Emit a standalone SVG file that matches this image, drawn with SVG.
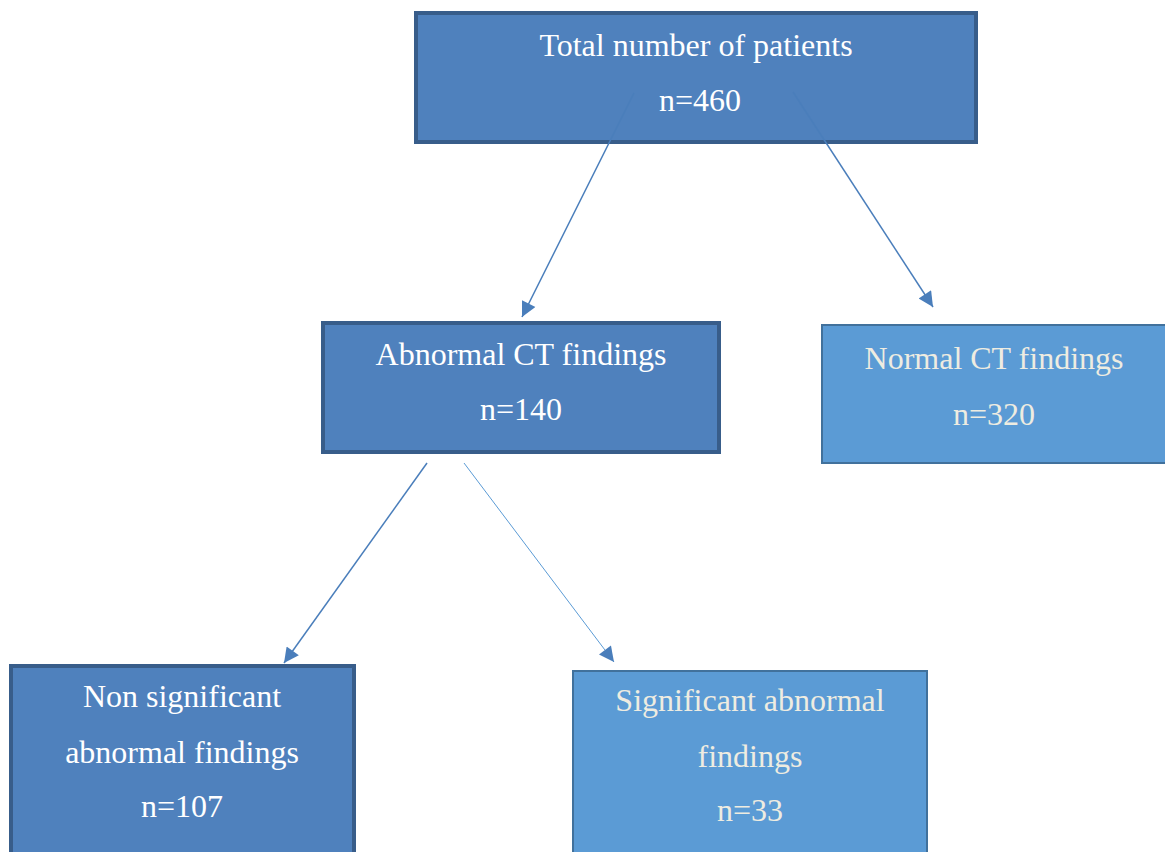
<svg xmlns="http://www.w3.org/2000/svg" width="1165" height="852" viewBox="0 0 1165 852">
<style>
.dark{fill:#4f81bd;stroke:#385d8a;stroke-width:4}
.light{fill:#5b9bd5;stroke:#41719c;stroke-width:2}
.t{font-family:"Liberation Serif",serif;font-size:32px;text-anchor:middle}
.tw{fill:#ffffff}
.tl{fill:#eeece1}
.c{stroke:#4a7ebb;stroke-width:1.5;fill:none;marker-end:url(#ah)}
</style>
<defs>
<marker id="ah" viewBox="0 0 10 10" refX="10" refY="5" markerWidth="16" markerHeight="15" markerUnits="userSpaceOnUse" orient="auto">
<path d="M0,0 L10,5 L0,10 z" fill="#4a7ebb"/>
</marker>
</defs>
<rect width="1165" height="852" fill="#ffffff"/>
<g id="n-total">
<rect class="dark" x="416" y="13" width="560" height="129"/>
<text class="t tw" x="696" y="56">Total number of patients</text>
<text class="t tw" x="700" y="111">n=460</text>
</g>
<g id="n-abnormal">
<rect class="dark" x="323" y="323" width="396" height="129"/>
<text class="t tw" x="521" y="365">Abnormal CT findings</text>
<text class="t tw" x="521" y="420">n=140</text>
</g>
<g id="n-normal">
<rect class="light" x="822" y="325" width="350" height="138"/>
<text class="t tl" x="994" y="369">Normal CT findings</text>
<text class="t tl" x="994" y="425">n=320</text>
</g>
<g id="n-nonsig">
<rect class="dark" x="11" y="666" width="343" height="200"/>
<text class="t tw" x="182" y="707">Non significant</text>
<text class="t tw" x="182" y="763">abnormal findings</text>
<text class="t tw" x="182" y="817">n=107</text>
</g>
<g id="n-sig">
<rect class="light" x="573" y="671" width="354" height="200"/>
<text class="t tl" x="750" y="711">Significant abnormal</text>
<text class="t tl" x="750" y="767">findings</text>
<text class="t tl" x="750" y="821">n=33</text>
</g>
<g id="connectors">
<line class="c" x1="634" y1="93" x2="522" y2="317"/>
<line class="c" x1="793" y1="92" x2="933" y2="307"/>
<line class="c" x1="427" y1="463" x2="284" y2="663"/>
<line class="c" x1="464" y1="463" x2="614" y2="662" style="stroke:#5b9bd5;stroke-width:1"/>
</g>
</svg>
